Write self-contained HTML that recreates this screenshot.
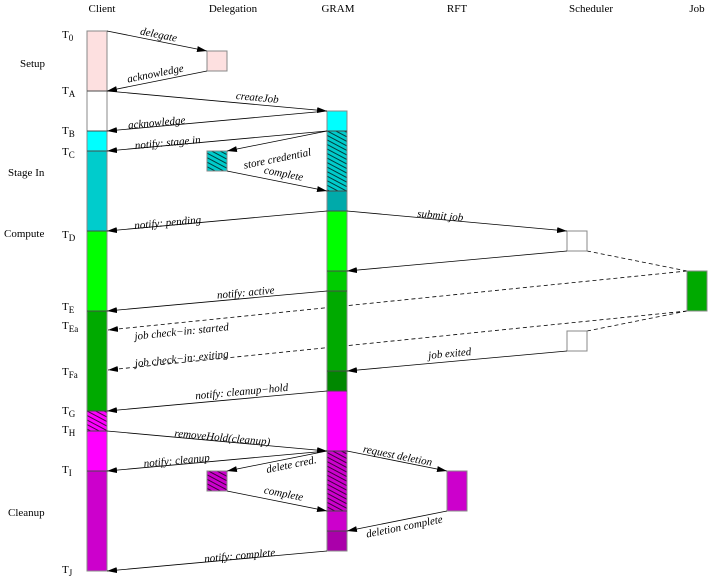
<!DOCTYPE html>
<html><head><meta charset="utf-8"><style>
html,body{margin:0;padding:0;background:#fff;}
svg{display:block;}
text{font-family:"Liberation Serif",serif;font-size:11px;fill:#000;}
.l{font-style:italic;}
</style></head><body>
<svg width="709" height="577" viewBox="0 0 709 577" xmlns="http://www.w3.org/2000/svg">
<defs>
<marker id="a" markerWidth="10" markerHeight="6" refX="10" refY="3" orient="auto" markerUnits="userSpaceOnUse">
<path d="M0,0 L10,3 L0,6 z" fill="#000"/></marker>
<pattern id="h" width="4" height="4" patternUnits="userSpaceOnUse" patternTransform="rotate(28)">
<line x1="0" y1="2" x2="4" y2="2" stroke="#000" stroke-width="0.7"/></pattern>
</defs>
<g stroke="#000" stroke-width="0.8" fill="none" stroke-dasharray="4,3">
<line x1="687" y1="271" x2="108" y2="330" marker-end="url(#a)"/>
<line x1="687" y1="311" x2="108" y2="370" marker-end="url(#a)"/>
<line x1="587" y1="251" x2="687" y2="271"/>
<line x1="587" y1="331" x2="687" y2="311"/>
</g>
<g stroke="#888" stroke-width="1">
<!-- client -->
<rect x="87" y="31" width="20" height="60" fill="#fde0e0"/>
<rect x="87" y="91" width="20" height="40" fill="#fff"/>
<rect x="87" y="131" width="20" height="20" fill="#00ffff"/>
<rect x="87" y="151" width="20" height="80" fill="#00cccc"/>
<rect x="87" y="231" width="20" height="80" fill="#00ff00"/>
<rect x="87" y="311" width="20" height="100" fill="#00aa00"/>
<rect x="87" y="411" width="20" height="20" fill="#ff00ff"/>
<rect x="87" y="411" width="20" height="20" fill="url(#h)"/>
<rect x="87" y="431" width="20" height="40" fill="#ff00ff"/>
<rect x="87" y="471" width="20" height="100" fill="#cc00cc"/>
<!-- delegation -->
<rect x="207" y="51" width="20" height="20" fill="#fde0e0"/>
<rect x="207" y="151" width="20" height="20" fill="#00cccc"/>
<rect x="207" y="151" width="20" height="20" fill="url(#h)"/>
<rect x="207" y="471" width="20" height="20" fill="#cc00cc"/>
<rect x="207" y="471" width="20" height="20" fill="url(#h)"/>
<!-- GRAM -->
<rect x="327" y="111" width="20" height="20" fill="#00ffff"/>
<rect x="327" y="131" width="20" height="60" fill="#00cccc"/>
<rect x="327" y="131" width="20" height="60" fill="url(#h)"/>
<rect x="327" y="191" width="20" height="20" fill="#00aaaa"/>
<rect x="327" y="211" width="20" height="60" fill="#00ff00"/>
<rect x="327" y="271" width="20" height="20" fill="#00cc00"/>
<rect x="327" y="291" width="20" height="80" fill="#00aa00"/>
<rect x="327" y="371" width="20" height="20" fill="#008800"/>
<rect x="327" y="391" width="20" height="60" fill="#ff00ff"/>
<rect x="327" y="451" width="20" height="60" fill="#cc00cc"/>
<rect x="327" y="451" width="20" height="60" fill="url(#h)"/>
<rect x="327" y="511" width="20" height="20" fill="#cc00cc"/>
<rect x="327" y="531" width="20" height="20" fill="#aa00aa"/>
<!-- RFT, scheduler, job -->
<rect x="447" y="471" width="20" height="40" fill="#cc00cc"/>
<rect x="567" y="231" width="20" height="20" fill="#fff"/>
<rect x="567" y="331" width="20" height="20" fill="#fff"/>
<rect x="687" y="271" width="20" height="40" fill="#00aa00"/>
</g>
<g stroke="#000" stroke-width="0.8" opacity="0.6">
<line x1="87" y1="131" x2="107" y2="131"/><line x1="87" y1="151" x2="107" y2="151"/>
<line x1="87" y1="231" x2="107" y2="231"/><line x1="87" y1="311" x2="107" y2="311"/>
<line x1="87" y1="411" x2="107" y2="411"/><line x1="87" y1="431" x2="107" y2="431"/>
<line x1="87" y1="471" x2="107" y2="471"/><line x1="87" y1="91" x2="107" y2="91"/>
<line x1="327" y1="131" x2="347" y2="131"/><line x1="327" y1="191" x2="347" y2="191"/>
<line x1="327" y1="211" x2="347" y2="211"/><line x1="327" y1="271" x2="347" y2="271"/>
<line x1="327" y1="291" x2="347" y2="291"/><line x1="327" y1="371" x2="347" y2="371"/>
<line x1="327" y1="391" x2="347" y2="391"/><line x1="327" y1="451" x2="347" y2="451"/>
<line x1="327" y1="511" x2="347" y2="511"/><line x1="327" y1="531" x2="347" y2="531"/>
</g>
<g stroke="#000" stroke-width="0.8" fill="none">
<line x1="107" y1="31" x2="207" y2="51" marker-end="url(#a)"/>
<line x1="207" y1="71" x2="107" y2="91" marker-end="url(#a)"/>
<line x1="107" y1="91" x2="327" y2="111" marker-end="url(#a)"/>
<line x1="327" y1="111" x2="107" y2="131" marker-end="url(#a)"/>
<line x1="327" y1="131" x2="107" y2="151" marker-end="url(#a)"/>
<line x1="327" y1="131" x2="227" y2="151" marker-end="url(#a)"/>
<line x1="227" y1="171" x2="327" y2="191" marker-end="url(#a)"/>
<line x1="327" y1="211" x2="107" y2="231" marker-end="url(#a)"/>
<line x1="347" y1="211" x2="567" y2="231" marker-end="url(#a)"/>
<line x1="567" y1="251" x2="347" y2="271" marker-end="url(#a)"/>
<line x1="327" y1="291" x2="107" y2="311" marker-end="url(#a)"/>
<line x1="567" y1="351" x2="347" y2="371" marker-end="url(#a)"/>
<line x1="327" y1="391" x2="107" y2="411" marker-end="url(#a)"/>
<line x1="107" y1="431" x2="327" y2="451" marker-end="url(#a)"/>
<line x1="327" y1="451" x2="107" y2="471" marker-end="url(#a)"/>
<line x1="327" y1="451" x2="227" y2="471" marker-end="url(#a)"/>
<line x1="227" y1="491" x2="327" y2="511" marker-end="url(#a)"/>
<line x1="347" y1="451" x2="447" y2="471" marker-end="url(#a)"/>
<line x1="447" y1="511" x2="347" y2="531" marker-end="url(#a)"/>
<line x1="327" y1="551" x2="107" y2="571" marker-end="url(#a)"/>
</g>
<!-- headers -->
<text x="102" y="12" text-anchor="middle">Client</text>
<text x="233" y="12" text-anchor="middle">Delegation</text>
<text x="338" y="12" text-anchor="middle">GRAM</text>
<text x="457" y="12" text-anchor="middle">RFT</text>
<text x="591" y="12" text-anchor="middle">Scheduler</text>
<text x="697" y="12" text-anchor="middle">Job</text>
<!-- phases -->
<text x="20" y="67">Setup</text>
<text x="8" y="176">Stage In</text>
<text x="4" y="237">Compute</text>
<text x="8" y="516">Cleanup</text>
<!-- times -->
<g font-size="12">
<text x="62" y="38">T<tspan font-size="9" dy="3">0</tspan></text>
<text x="62" y="94">T<tspan font-size="9" dy="3">A</tspan></text>
<text x="62" y="134">T<tspan font-size="9" dy="3">B</tspan></text>
<text x="62" y="155">T<tspan font-size="9" dy="3">C</tspan></text>
<text x="62" y="238">T<tspan font-size="9" dy="3">D</tspan></text>
<text x="62" y="310">T<tspan font-size="9" dy="3">E</tspan></text>
<text x="62" y="329">T<tspan font-size="9" dy="3">Ea</tspan></text>
<text x="62" y="375">T<tspan font-size="9" dy="3">Fa</tspan></text>
<text x="62" y="414">T<tspan font-size="9" dy="3">G</tspan></text>
<text x="62" y="433">T<tspan font-size="9" dy="3">H</tspan></text>
<text x="62" y="473">T<tspan font-size="9" dy="3">I</tspan></text>
<text x="62" y="573">T<tspan font-size="9" dy="3">J</tspan></text>
</g>
<!-- labels -->
<g class="l" text-anchor="middle">
<text class="l" transform="translate(158,38) rotate(11.3)">delegate</text>
<text class="l" transform="translate(156,77) rotate(-11.3)">acknowledge</text>
<text class="l" transform="translate(257,101) rotate(5.2)">createJob</text>
<text class="l" transform="translate(157,126) rotate(-5.2)">acknowledge</text>
<text class="l" transform="translate(168,146) rotate(-5.2)">notify: stage in</text>
<text class="l" transform="translate(278,162) rotate(-11.3)">store credential</text>
<text class="l" transform="translate(283,177) rotate(11.3)">complete</text>
<text class="l" transform="translate(168,226) rotate(-5.2)">notify: pending</text>
<text class="l" transform="translate(440,219) rotate(5.2)">submit job</text>
<text class="l" transform="translate(246,296) rotate(-5.2)">notify: active</text>
<text class="l" transform="translate(182,335) rotate(-5.8)">job check−in: started</text>
<text class="l" transform="translate(182,362) rotate(-5.8)">job check−in: exiting</text>
<text class="l" transform="translate(450,357) rotate(-5.2)">job exited</text>
<text class="l" transform="translate(242,395) rotate(-5.2)">notify: cleanup−hold</text>
<text class="l" transform="translate(222,441) rotate(5.2)">removeHold(cleanup)</text>
<text class="l" transform="translate(177,464) rotate(-5.2)">notify: cleanup</text>
<text class="l" transform="translate(292,468) rotate(-11.3)">delete cred.</text>
<text class="l" transform="translate(283,497) rotate(11.3)">complete</text>
<text class="l" transform="translate(397,459) rotate(11.3)">request deletion</text>
<text class="l" transform="translate(405,530) rotate(-11.3)">deletion complete</text>
<text class="l" transform="translate(240,559) rotate(-5.2)">notify: complete</text>
</g>
</svg>
</body></html>
